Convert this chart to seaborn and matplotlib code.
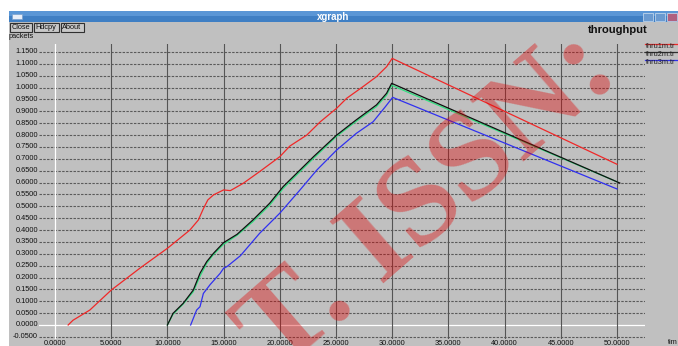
import matplotlib
matplotlib.use("Agg")
import matplotlib.pyplot as plt
import seaborn as sns
import pandas as pd
from matplotlib.patches import Rectangle
from matplotlib.lines import Line2D

# ---- data ----
time_red = [1.17, 1.6, 3.1, 5.0, 7.6, 10.0, 12.0, 12.75, 13.2, 13.6, 14.1, 15.0, 15.6,
            16.75, 18.2, 19.4, 20.0, 20.9, 22.4, 23.6, 25.06, 25.95, 27.4, 28.6, 29.5, 30.0, 50.0]
thru1m = [0.0, 0.02, 0.063, 0.147, 0.241, 0.323, 0.40, 0.442, 0.49, 0.527, 0.548, 0.569, 0.566,
          0.597, 0.646, 0.688, 0.709, 0.754, 0.80, 0.856, 0.913, 0.955, 1.004, 1.046, 1.088, 1.123, 0.677]

time_blk = [10.0, 10.5, 11.4, 12.3, 12.9, 13.5, 14.1, 15.0, 16.2, 17.6, 19.1, 20.3, 21.5,
            23.0, 25.06, 26.8, 28.6, 29.5, 29.95, 50.25]
thru2m = [0.0, 0.049, 0.091, 0.147, 0.218, 0.267, 0.302, 0.347, 0.382, 0.442, 0.513, 0.583, 0.639,
          0.709, 0.80, 0.864, 0.927, 0.976, 1.018, 0.598]

time_grn = [10.0, 10.5, 11.4, 12.3, 12.9, 13.5, 14.1, 15.0, 16.2, 17.6, 19.1, 20.3, 21.5,
            23.0, 25.06, 26.8, 28.6, 29.5, 29.95, 50.0]
thru2m_b = [0.0, 0.045, 0.088, 0.140, 0.205, 0.260, 0.297, 0.340, 0.378, 0.435, 0.505, 0.575, 0.632,
            0.702, 0.795, 0.858, 0.920, 0.968, 1.010, 0.603]

time_blu = [12.07, 12.6, 12.9, 13.2, 13.8, 14.7, 15.0, 15.3, 16.5, 18.2, 20.0, 21.8, 23.3,
            25.06, 26.8, 28.3, 29.4, 30.04, 50.0]
thru3m = [0.0, 0.063, 0.077, 0.133, 0.17, 0.218, 0.239, 0.246, 0.292, 0.386, 0.471, 0.569, 0.653,
          0.737, 0.807, 0.856, 0.92, 0.959, 0.573]

x_ticks = [0, 5, 10, 15, 20, 25, 30, 35, 40, 45, 50]
y_ticks = [-0.05 + 0.05 * i for i in range(25)]
legend_names = ["thru1m.tr", "thru2m.tr", "thru3m.tr"]

# ---- figure ----
W, H = 678, 346
fig = plt.figure(figsize=(W / 100, H / 100), dpi=100)
fig.patch.set_facecolor("white")
FONT = ["Liberation Sans", "DejaVu Sans"]

def fx(px):
    return px / W

def fy(py):
    return 1 - py / H

def frect(x0, y0, x1, y1, **kw):
    fig.add_artist(Rectangle((fx(x0), fy(y1)), fx(x1) - fx(x0), fy(y0) - fy(y1),
                             transform=fig.transFigure, **kw))

# window chrome
frect(9, 22, 678, 346, facecolor="#c0c0c0", edgecolor="none", zorder=0)
frect(9, 11, 678, 22, facecolor="#3f7fc4", edgecolor="none", zorder=1)
frect(9, 11, 678, 16, facecolor="#5a96d6", edgecolor="none", zorder=1)
frect(12, 14, 22, 19, facecolor="#e8eef8", edgecolor="#7aa0cc", lw=0.5, zorder=2)
fig.text(fx(333), fy(16.5), "xgraph", color="white", fontsize=7, fontweight="bold",
         ha="center", va="center", family=FONT, zorder=3)
for bx, col in [(643, "#6a9ad0"), (655, "#6a9ad0"), (667, "#b06080")]:
    frect(bx, 13, bx + 10, 21, facecolor=col, edgecolor="#d0e0f0", lw=0.5, zorder=2)

# buttons
for (x0, x1, lab) in [(9, 32, "Close"), (33, 59, "Hdcpy"), (60, 84, "About")]:
    frect(x0 + 0.5, 23, x1 - 0.5, 32, facecolor="#c8c8c8", edgecolor="#303030", lw=0.8, zorder=2)
    fig.text(fx((x0 + x1) / 2), fy(27.5), lab, fontsize=5.3, ha="center", va="center",
             family=FONT, color="#101010", zorder=3)

fig.text(fx(9), fy(36.5), "packets", fontsize=5.3, ha="left", va="center", family=FONT, color="#101010")
fig.text(fx(648), fy(30), "throughput", fontsize=8, fontweight="bold", ha="right", va="center",
         family=FONT, color="#101010")

# main axes
ax_l, ax_r, ax_t, ax_b = 39, 645, 44, 339
ax = fig.add_axes([fx(ax_l), fy(ax_b), fx(ax_r) - fx(ax_l), fy(ax_t) - fy(ax_b)])
ax.set_facecolor("#c0c0c0")
for s in ax.spines.values():
    s.set_visible(False)
x0px, xscale = 55, 56.2 / 5
y0px, yscale = 325, 237.4
ax.set_xlim((ax_l - x0px) / xscale, (ax_r - x0px) / xscale)
ax.set_ylim((y0px - ax_b) / yscale, (y0px - ax_t) / yscale)
ax.set_xticks([])
ax.set_yticks([])

for yv in y_ticks:
    if abs(yv) < 1e-9:
        ax.axhline(0, color="white", lw=0.9, zorder=1)
    else:
        ax.axhline(yv, color="#5a5a5a", lw=0.8, ls=(0, (2.2, 1.2)), zorder=1)
    fig.text(fx(38), fy(y0px - yv * yscale), f"{yv:.4f}", fontsize=5.3, ha="right", va="center",
             family=FONT, color="#101010")
for xv in x_ticks:
    if xv == 0:
        ax.axvline(0, color="white", lw=0.9, zorder=1)
    else:
        ax.axvline(xv, color="#555555", lw=0.8, zorder=1)
    fig.text(fx(x0px + xv * xscale), fy(343.5), f"{xv:.4f}", fontsize=5.3, ha="center", va="center",
             family=FONT, color="#101010")
fig.text(fx(668), fy(343), "tim", fontsize=5.3, ha="left", va="center", family=FONT, color="#101010")

# data via seaborn
df = pd.concat([
    pd.DataFrame({"time": time_red, "packets": thru1m, "series": "thru1m"}),
    pd.DataFrame({"time": time_grn, "packets": thru2m_b, "series": "thru2m_b"}),
    pd.DataFrame({"time": time_blk, "packets": thru2m, "series": "thru2m"}),
    pd.DataFrame({"time": time_blu, "packets": thru3m, "series": "thru3m"}),
])
palette = {"thru1m": "#f02828", "thru2m_b": "#30e080", "thru2m": "#101010", "thru3m": "#3030f0"}
sns.lineplot(data=df, x="time", y="packets", hue="series", palette=palette, sort=False,
             estimator=None, lw=0.9, legend=False, ax=ax, zorder=3)
ax.set_xlabel("")
ax.set_ylabel("")

# legend (xgraph style)
for i, (name, col) in enumerate(zip(legend_names, ["#f02828", "#303030", "#3030f0"])):
    yl = 44 + 8 * i
    fig.add_artist(Line2D([fx(645), fx(678)], [fy(yl), fy(yl)], color=col, lw=0.9,
                          transform=fig.transFigure))
    fig.text(fx(646), fy(yl + 3), name, fontsize=5.3, ha="left", va="center", family=FONT,
             color="#202020")

# watermark
fig.text(fx(430), fy(203), "T. ISSN:", fontsize=90, fontweight="bold",
         family=["Liberation Serif", "DejaVu Serif"],
         color="#e00000", alpha=0.38, rotation=41, ha="center", va="center",
         rotation_mode="anchor", zorder=10)

fig.savefig("out.png", dpi=100)
